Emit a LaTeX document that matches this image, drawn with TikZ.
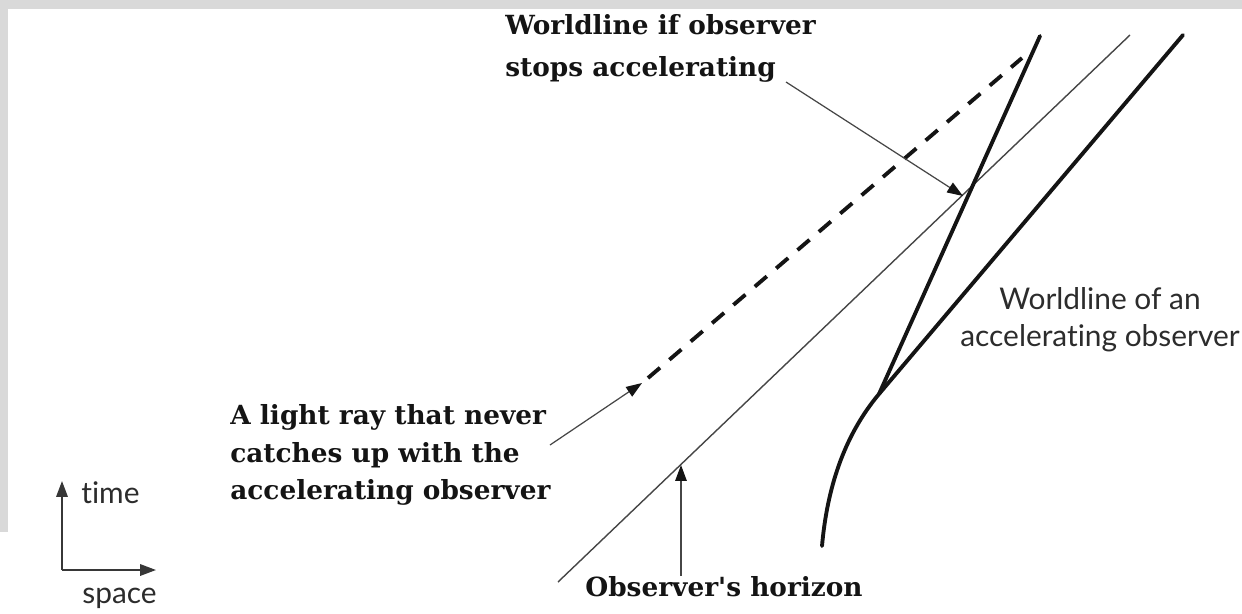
\documentclass[tikz,border=0pt]{standalone}
\usepackage{fontspec}
\setmainfont{DejaVu Serif}
\newfontfamily\gillfont[Ligatures=NoCommon]{Lato}
\usetikzlibrary{arrows.meta, positioning, calc}
\definecolor{frameGray}{RGB}{217,217,217}
\definecolor{inkDark}{RGB}{20,20,20}
\definecolor{arrGray}{RGB}{70,70,70}
\tikzset{
  wl/world/.style={line width=2.2pt, draw=inkDark, line cap=round},
  wl/stop/.style={line width=2.2pt, draw=inkDark, dash pattern=on 9pt off 7pt},
  wl/horizon/.style={line width=0.8pt, draw=arrGray},
  wl/arr/.style={-{Triangle[length=9pt,width=6.5pt,color=inkDark]},
    line width=0.7pt, draw=arrGray},
  wl/axis/.style={-{Triangle[length=9pt,width=6.5pt]}, line width=1pt,
    draw=inkDark!85},
  wl/bold/.style={font=\fontsize{15}{24}\selectfont\bfseries, text=inkDark,
    align=left, inner sep=0pt},
  wl/sans/.style={font=\gillfont\fontsize{17}{21}\selectfont,
    text=inkDark!90, align=center, inner sep=0pt}
}

\begin{document}
\begin{tikzpicture}[x=0.02cm, y=-0.02cm]
  \useasboundingbox (0,0) rectangle (1242,613);
  % grey frame of the scan
  \fill[frameGray] (0,0) rectangle (1242,9);
  \fill[frameGray] (0,9) rectangle (8,532);

  % worldlines
  \coordinate (accBot)  at (822,546);
  \coordinate (kink)    at (879,394);
  \coordinate (accTop)  at (1183,35);
  \coordinate (stopTop) at (1040,36);
  \coordinate (horBot)  at (558,582);
  \coordinate (horTop)  at (1130,35);
  \coordinate (rayBot)  at (648,378);
  \coordinate (rayTop)  at (1022,58);

  \draw[wl/horizon] (horBot) -- (horTop);
  \draw[wl/stop] (rayBot) -- (rayTop);
  \draw[wl/world] (accBot) .. controls (827,490) and (843,437) .. (kink)
    -- (accTop);
  \draw[wl/world] (kink) -- (stopTop);

  % labels
  \node[wl/bold, anchor=north west] (stopLbl) at (505,14)
    {Worldline if observer\\stops accelerating};
  \node[wl/bold, anchor=north west,
    font=\fontsize{15}{21.5}\selectfont\bfseries] (rayLbl) at (230,404)
    {A light ray that never\\catches up with the\\accelerating observer};
  \node[wl/bold, anchor=north] (horLbl) at (724,576)
    {Observer\textquotesingle s horizon};
  \node[wl/sans] (accLbl) at (1100,320)
    {Worldline of an\\accelerating observer};

  % pointers
  \coordinate (stopFrom) at (786,82);
  \coordinate (stopTip)  at (963,196);
  \coordinate (rayFrom)  at (550,445);
  \coordinate (rayTip)   at (642,383);
  \coordinate (horTip)   at (681,465);
  \draw[wl/arr] (stopFrom) -- (stopTip);
  \draw[wl/arr] (rayFrom) -- (rayTip);
  \draw[wl/arr] (horLbl.north -| horTip) -- (horTip);

  % time / space axes
  \coordinate (origin) at (62,570);
  \coordinate (timeEnd) at (62,481);
  \coordinate (spaceEnd) at (156,570);
  \draw[wl/axis] (origin) -- (timeEnd);
  \draw[wl/axis] (origin) -- (spaceEnd);
  \node[wl/sans, anchor=west] (timeLbl) at (81,493) {time};
  \node[wl/sans, anchor=north west] (spaceLbl) at (82,588) {space};
\end{tikzpicture}
\end{document}
